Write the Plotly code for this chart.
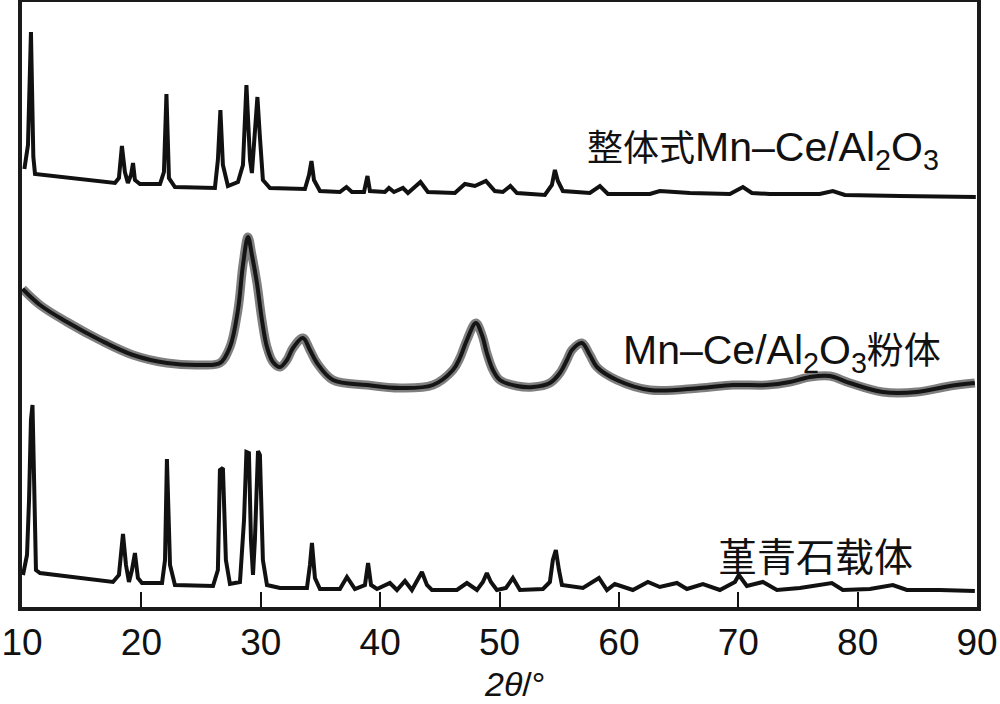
import plotly.graph_objects as go

# ---------------- data (2θ in degrees, intensity in arbitrary stacked units) ----------------
mono_2theta = [10.2, 10.5, 10.75, 10.95, 11.09, 13.18, 15.69, 17.79, 18.12, 18.37, 18.62, 18.87,
               19.13, 19.30, 19.46, 19.88, 21.56, 21.89, 22.10, 22.31, 22.81, 26.16, 26.41, 26.62,
               26.83, 27.25, 28.09, 28.51, 28.80, 29.10, 29.26, 29.51, 29.72, 29.93, 30.18, 30.77,
               33.70, 34.04, 34.25, 34.46, 34.96, 36.63, 37.18, 37.64, 38.65, 38.94, 39.15, 40.40,
               40.74, 41.16, 41.91, 42.33, 43.38, 44.00, 46.26, 47.10, 47.94, 48.86, 49.61, 50.28,
               50.91, 51.46, 53.80, 54.39, 54.64, 54.89, 55.31, 57.57, 58.41, 59.08, 62.60, 63.43,
               64.44, 65.95, 69.30, 70.39, 71.14, 72.65, 74.32, 76.83, 77.92, 78.93, 83.53, 89.90]
mono_int = [438, 462, 575, 450, 433, 430, 427, 424, 429, 461, 435, 424,
            432, 444, 427, 423, 423, 435, 513, 429, 420, 419, 447, 497,
            442, 421, 425, 442, 522, 447, 434, 470, 510, 470, 427, 419,
            418, 432, 446, 427, 416, 415, 420, 415, 415, 431, 416, 415,
            419, 415, 419, 414, 425, 415, 414, 423, 421, 426, 416, 415,
            421, 414, 412, 422, 437, 426, 416, 414, 421, 413, 413, 416,
            415, 414, 413, 420, 414, 413, 413, 413, 416, 412, 411, 410]

powder_2theta = [10.05, 11.51, 13.77, 16.53, 19.30, 22.14, 24.91, 26.58, 27.42, 28.09, 28.51, 28.93,
                 29.26, 29.68, 30.10, 30.52, 31.02, 31.61, 32.19, 32.70, 33.53, 34.12, 34.71, 36.05,
                 38.89, 41.66, 44.42, 46.10, 46.68, 47.27, 48.02, 48.53, 48.94, 49.45, 50.03, 51.46,
                 52.80, 54.22, 55.06, 55.65, 56.07, 56.90, 57.57, 58.16, 59.83, 62.60, 66.78, 69.55,
                 72.40, 74.32, 76.00, 77.67, 79.35, 82.11, 84.96, 87.72, 89.82]
powder_int = [318, 302, 285, 267, 252, 244, 242, 244, 260, 297, 342, 370,
              352, 324, 287, 260, 245, 240, 247, 259, 269, 257, 244, 227,
              222, 219, 222, 237, 249, 267, 284, 272, 254, 237, 227, 221,
              220, 224, 234, 247, 257, 264, 252, 240, 227, 217, 219, 222,
              222, 225, 230, 231, 224, 215, 215, 221, 224]

cord_2theta = [10.08, 10.42, 10.59, 10.75, 10.88, 11.01, 11.17, 11.51, 14.86, 17.62, 18.12, 18.46,
               18.71, 18.96, 19.21, 19.46, 19.71, 20.05, 21.73, 21.98, 22.14, 22.40, 22.81, 26.00,
               26.41, 26.58, 26.83, 27.08, 27.42, 28.26, 28.60, 28.80, 29.01, 29.18, 29.35, 29.51,
               29.77, 29.93, 30.18, 30.52, 31.61, 33.87, 34.12, 34.29, 34.54, 34.96, 36.63, 37.22,
               37.89, 38.73, 38.99, 39.24, 39.74, 40.82, 41.41, 42.08, 42.66, 43.17, 43.50, 43.92,
               44.34, 46.43, 47.27, 48.11, 48.61, 48.94, 49.28, 49.78, 50.54, 51.12, 51.71, 53.64,
               54.22, 54.47, 54.72, 54.98, 55.23, 56.99, 58.33, 59.00, 59.66, 61.17, 62.43, 63.43,
               64.86, 65.70, 67.04, 68.46, 69.72, 70.05, 70.72, 72.06, 73.24, 75.16, 77.84, 78.76,
               81.02, 82.95, 84.12, 86.88, 89.82]
cord_int = [32, 52, 107, 187, 202, 137, 37, 34, 29, 25, 32, 73,
            42, 25, 37, 54, 29, 24, 24, 47, 148, 42, 22, 21,
            37, 137, 139, 47, 23, 25, 87, 155, 154, 67, 32, 67,
            156, 152, 47, 22, 19, 19, 42, 64, 29, 18, 18, 30,
            18, 22, 44, 22, 18, 24, 17, 26, 17, 27, 35, 22,
            17, 17, 24, 17, 25, 34, 25, 17, 19, 29, 17, 18,
            25, 47, 57, 37, 22, 19, 29, 17, 23, 17, 25, 20,
            24, 18, 23, 17, 25, 32, 21, 25, 17, 19, 24, 17,
            18, 22, 17, 17, 16]

x_ticks = [10, 20, 30, 40, 50, 60, 70, 80, 90]
labels = ['<span style="font-size:36px">整体式</span>Mn–Ce/Al<sub>2</sub>O<sub>3</sub>',
          'Mn–Ce/Al<sub>2</sub>O<sub>3</sub><span style="font-size:37px">粉体</span>',
          '<span style="font-size:39px">堇青石载体</span>']

# ---------------- figure ----------------
INK = "#111111"
fig = go.Figure()
fig.add_trace(go.Scatter(x=mono_2theta, y=mono_int, mode="lines",
                         line=dict(color=INK, width=4), hoverinfo="skip"))
# noise halo for the powder pattern
fig.add_trace(go.Scatter(x=powder_2theta, y=powder_int, mode="lines",
                         line=dict(color="rgba(0,0,0,0.5)", width=9, shape="spline"), hoverinfo="skip"))
fig.add_trace(go.Scatter(x=powder_2theta, y=powder_int, mode="lines",
                         line=dict(color="#151515", width=4, shape="spline"), hoverinfo="skip"))
fig.add_trace(go.Scatter(x=cord_2theta, y=cord_int, mode="lines",
                         line=dict(color=INK, width=4), hoverinfo="skip"))

txtfont = "Liberation Sans, Arial, Helvetica, Noto Sans CJK SC, sans-serif"

annots = [
    (57.2, 457, labels[0]),
    (60.2, 254, labels[1]),
    (68.1, 50, labels[2]),
]
for xa, ya, t in annots:
    fig.add_annotation(x=xa, y=ya, xref="x", yref="y", text=t, showarrow=False,
                       xanchor="left", yanchor="middle",
                       font=dict(family=txtfont, size=41, color=INK))

fig.add_annotation(x=0.516, y=-0.127, xref="paper", yref="paper", text="<i>2θ</i>/°",
                   showarrow=False, xanchor="center", yanchor="middle",
                   font=dict(family=txtfont, size=34, color=INK))

fig.update_xaxes(range=[10, 90], tickvals=x_ticks, ticks="inside", ticklen=15, tickwidth=2,
                 tickcolor=INK, showline=True, linewidth=4, linecolor="#1a1a1a", mirror=True,
                 showgrid=False, zeroline=False,
                 tickfont=dict(family=txtfont, size=37, color=INK))
fig.update_yaxes(range=[0, 605], showticklabels=False, ticks="", showline=True, linewidth=4,
                 linecolor="#1a1a1a", mirror=True, showgrid=False, zeroline=False)

fig.update_layout(width=1000, height=704, margin=dict(l=22, r=23, t=2, b=97, autoexpand=False),
                  plot_bgcolor="white", paper_bgcolor="white", showlegend=False)

fig.write_html("out.html", config={"displayModeBar": False},
               post_script="document.body.style.margin='0';")
